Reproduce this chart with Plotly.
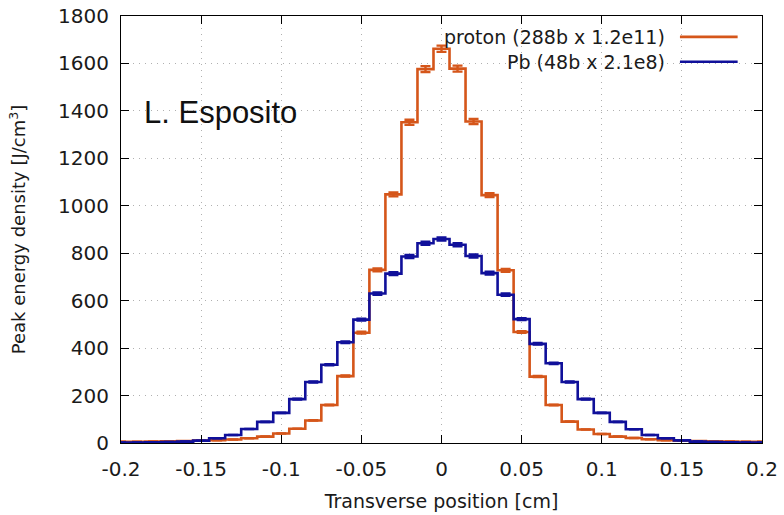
import plotly.graph_objects as go

# bin centres [cm]
positions = [-0.20, -0.19, -0.18, -0.17, -0.16, -0.15, -0.14, -0.13, -0.12, -0.11,
             -0.10, -0.09, -0.08, -0.07, -0.06, -0.05, -0.04, -0.03, -0.02, -0.01,
             0.00, 0.01, 0.02, 0.03, 0.04, 0.05, 0.06, 0.07, 0.08, 0.09,
             0.10, 0.11, 0.12, 0.13, 0.14, 0.15, 0.16, 0.17, 0.18, 0.19, 0.20]

proton = [5, 5, 6, 7, 8, 10, 12, 15, 20, 27,
          40, 60, 95, 160, 282, 465, 730, 1048, 1352, 1576,
          1662, 1578, 1355, 1045, 728, 468, 280, 160, 90, 57,
          38, 27, 21, 16, 12, 10, 8, 7, 6, 5, 5]

pb = [2, 2, 3, 4, 6, 10, 20, 34, 59, 89,
      127, 185, 257, 330, 425, 520, 630, 714, 786, 842,
      860, 836, 788, 716, 625, 522, 418, 336, 257, 185,
      127, 89, 58, 34, 20, 11, 6, 4, 3, 2, 2]

names = ["proton (288b x 1.2e11)", "Pb (48b x 2.1e8)"]
colors = ["#d5561a", "#10109a"]

xticks = [-0.2, -0.15, -0.1, -0.05, 0, 0.05, 0.1, 0.15, 0.2]
xticklabels = ["-0.2", "-0.15", "-0.1", "-0.05", "0", "0.05", "0.1", "0.15", "0.2"]

FONT = "DejaVu Sans"
TXT = "#1a1a1a"

fig = go.Figure()
for vals, nm, col in zip([proton, pb], names, colors):
    fig.add_trace(go.Scatter(
        x=positions, y=vals, mode="lines", name=nm,
        line=dict(color=col, width=2.6, shape="hvh"),
        error_y=dict(type="percent", value=0.8, color=col, thickness=2.4, width=5),
        showlegend=False,
    ))

# legend (text left of line sample, gnuplot style)
leg_y = [0.951, 0.893]
for nm, col, yy in zip(names, colors, leg_y):
    fig.add_annotation(xref="paper", yref="paper", x=0.852, y=yy, text=nm,
                       showarrow=False, xanchor="right", yanchor="middle",
                       font=dict(family=FONT, size=19, color=TXT))
    fig.add_shape(type="line", xref="paper", yref="paper", x0=0.872, x1=0.962,
                  y0=yy, y1=yy, line=dict(color=col, width=2.6))

fig.add_annotation(xref="paper", yref="paper", x=0.033, y=0.773, text="L. Esposito",
                   showarrow=False, xanchor="left", yanchor="middle",
                   font=dict(family="Liberation Sans", size=31, color="#111"))

axis_common = dict(showline=True, linecolor="black", linewidth=1.2, mirror="ticks",
                   ticks="inside", ticklen=8, tickcolor="black",
                   showgrid=True, gridcolor="#b0b0b0", griddash="1px,5px", gridwidth=1,
                   zeroline=False, tickfont=dict(family=FONT, size=20, color=TXT))

fig.update_xaxes(range=[-0.2, 0.2], tickvals=xticks, ticktext=xticklabels,
                 ticklabelstandoff=8,
                 title=dict(text="Transverse position [cm]", font=dict(family=FONT, size=19, color=TXT),
                            standoff=14),
                 **axis_common)
fig.update_yaxes(range=[0, 1800], dtick=200, ticklabelstandoff=7,
                 title=dict(text="Peak energy density [J/cm<sup>3</sup>]",
                            font=dict(family=FONT, size=18, color=TXT), standoff=27),
                 **axis_common)

fig.update_layout(width=784, height=515, plot_bgcolor="white", paper_bgcolor="white",
                  margin=dict(l=121, r=22, t=16, b=72, autoexpand=False))

fig.write_html("out.html")
